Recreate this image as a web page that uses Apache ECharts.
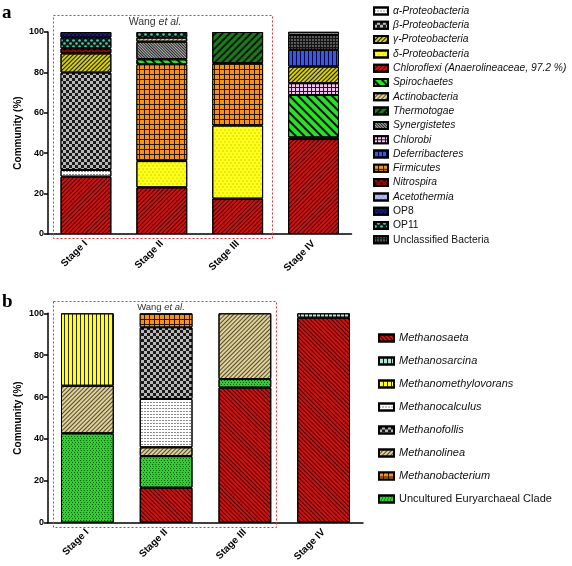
<!DOCTYPE html>
<html>
<head>
<meta charset="utf-8">
<script src="https://cdn.jsdelivr.net/npm/echarts@6/dist/echarts.min.js"></script>
<style>
html,body{margin:0;padding:0;background:#fff;overflow:hidden;}
#c{width:572px;height:566px;}
</style>
</head>
<body>
<div id="c"></div>
<script>
// ---------- DATA ----------
var stages = ['Stage I', 'Stage II', 'Stage III', 'Stage IV'];
var yTicks = [0, 20, 40, 60, 80, 100];

// Panel a (bacteria), listed in stacking order (bottom -> top)
var chloroflexi   = [28.4, 23.1, 17.5, 47.0];
var alphaProteo   = [3.3, null, null, null];
var deltaProteo   = [null, 13.0, 36.2, 0.8];
var betaProteo    = [48.2, null, null, null];
var firmicutes    = [null, 47.9, 30.9, null];
var spirochaetes  = [null, 2.5, null, 21.0];
var synergistetes = [null, 8.7, null, null];
var chlorobi      = [null, null, null, 5.8];
var gammaProteo   = [9.5, null, null, 8.3];
var actinobacteria= [null, 2.0, null, null];
var deferribacteres=[null, null, null, 8.3];
var thermotogae   = [null, null, 15.4, null];
var nitrospira    = [2.5, null, null, null];
var op11          = [5.3, 2.8, null, null];
var op8           = [2.8, null, null, null];
var unclassified  = [null, null, null, 7.4];
var acetothermia  = [null, null, null, 1.5];

var legendA = ['α-Proteobacteria', 'β-Proteobacteria', 'γ-Proteobacteria', 'δ-Proteobacteria',
  'Chloroflexi (Anaerolineaceae, 97.2 %)', 'Spirochaetes', 'Actinobacteria', 'Thermotogae',
  'Synergistetes', 'Chlorobi', 'Deferribacteres', 'Firmicutes', 'Nitrospira', 'Acetothermia',
  'OP8', 'OP11', 'Unclassified Bacteria'];

// Panel b (archaea), stacking order
var methanosaeta        = [null, 16.7, 64.5, 97.9];
var uncultured          = [42.7, 15.1, 4.1, null];
var methanolinea        = [22.7, 4.2, 31.4, null];
var methanocalculus     = [null, 23.1, null, null];
var methanofollis       = [null, 34.2, null, null];
var methanobacterium    = [null, 6.7, null, null];
var methanomethylovorans= [34.6, null, null, null];
var methanosarcina      = [null, null, null, 2.1];

var legendB = ['Methanosaeta', 'Methanosarcina', 'Methanomethylovorans', 'Methanocalculus',
  'Methanofollis', 'Methanolinea', 'Methanobacterium', 'Uncultured Euryarchaeal Clade'];

var nonItalic = ['OP8', 'OP11', 'Unclassified Bacteria', 'Uncultured Euryarchaeal Clade'];

// ---------- STYLES ----------
var FWD = -Math.PI / 4, BCK = Math.PI / 4;
function lines(color, t, g, rot) {
  return { symbol: 'rect', symbolSize: 1, color: color, dashArrayX: [1, 0], dashArrayY: [t, g], rotation: rot };
}
function vlines(color, t, g) {
  return { symbol: 'rect', symbolSize: 1, color: color, dashArrayX: [t, g], dashArrayY: [1, 0] };
}
function checker(color, s) {
  return { symbol: 'rect', symbolSize: 1, color: color, dashArrayX: [[s, s], [0, s, s, 0]], dashArrayY: [s, 0] };
}
function cells(color, a, b) {
  return { symbol: 'rect', symbolSize: 1, color: color, dashArrayX: [a, b], dashArrayY: [a, b] };
}
function dots(color, sym, size, sp) {
  return { symbol: sym, symbolSize: size, color: color, dashArrayX: [[sp, sp], [0, sp, sp, 0]], dashArrayY: [sp, 0] };
}

var styles = {
  'α-Proteobacteria': ['#ffffff', { symbol: 'rect', symbolSize: 1, color: '#8a8a8a', dashArrayX: [2, 1], dashArrayY: [1, 2] }],
  'β-Proteobacteria': ['#1a1a1a', checker('#b8b8b8', 3)],
  'γ-Proteobacteria': ['#d2cc1e', lines('#1a1a00', 1, 2, FWD)],
  'δ-Proteobacteria': ['#ffff1a', { symbol: 'rect', symbolSize: 0.6, color: 'rgba(120,120,0,0.55)', dashArrayX: [[2, 2], [0, 2, 2, 0]], dashArrayY: [2, 1] }],
  'Chloroflexi (Anaerolineaceae, 97.2 %)': ['#d01212', lines('rgba(20,0,0,0.75)', 1, 2, FWD)],
  'Spirochaetes': ['#28e028', lines('#0a0a0a', 2, 4, BCK)],
  'Actinobacteria': ['#ddd19c', lines('rgba(40,30,0,0.7)', 1, 2, FWD)],
  'Thermotogae': ['#1c7a1c', lines('#061806', 2, 3, FWD)],
  'Synergistetes': ['#b4b4b4', lines('#222', 1, 1, BCK)],
  'Chlorobi': ['#1a1a1a', cells('#f0c4ee', 3, 1)],
  'Deferribacteres': ['#3a55ee', vlines('#0a0a30', 1, 3)],
  'Firmicutes': ['#2a1800', cells('#f5921e', 4, 1)],
  'Nitrospira': ['#900c0c', dots('#1a0000', 'circle', 0.8, 3)],
  'Acetothermia': ['#b8c0f8', dots('rgba(70,70,190,0.6)', 'circle', 0.7, 2)],
  'OP8': ['#0c0c5c', dots('rgba(120,120,230,0.6)', 'rect', 0.5, 2)],
  'OP11': ['#141414', dots('#4cc8a6', 'circle', 0.9, 3)],
  'Unclassified Bacteria': ['#141414', cells('#5a5a5a', 2, 1)],

  'Methanosaeta': ['#d01212', lines('rgba(20,0,0,0.75)', 1, 2, BCK)],
  'Methanosarcina': ['#b6e6d6', vlines('#0a1a14', 1, 3)],
  'Methanomethylovorans': ['#ffff1a', vlines('#2a2a00', 1, 3)],
  'Methanocalculus': ['#ffffff', { symbol: 'rect', symbolSize: 1, color: '#8a8a8a', dashArrayX: [2, 1], dashArrayY: [1, 2] }],
  'Methanofollis': ['#1a1a1a', checker('#b8b8b8', 3)],
  'Methanolinea': ['#ddd19c', lines('rgba(40,30,0,0.75)', 1, 2, FWD)],
  'Methanobacterium': ['#2a1800', cells('#f5921e', 4, 1)],
  'Uncultured Euryarchaeal Clade': ['#2ed02e', { symbol: 'rect', symbolSize: 1, color: 'rgba(0,40,0,0.75)', dashArrayX: [[1, 2], [0, 2, 1, 0]], dashArrayY: [1, 1] }]
};

var seriesA = [
  ['Chloroflexi (Anaerolineaceae, 97.2 %)', chloroflexi],
  ['α-Proteobacteria', alphaProteo],
  ['δ-Proteobacteria', deltaProteo],
  ['β-Proteobacteria', betaProteo],
  ['Firmicutes', firmicutes],
  ['Spirochaetes', spirochaetes],
  ['Synergistetes', synergistetes],
  ['Chlorobi', chlorobi],
  ['γ-Proteobacteria', gammaProteo],
  ['Actinobacteria', actinobacteria],
  ['Deferribacteres', deferribacteres],
  ['Thermotogae', thermotogae],
  ['Nitrospira', nitrospira],
  ['OP11', op11],
  ['OP8', op8],
  ['Unclassified Bacteria', unclassified],
  ['Acetothermia', acetothermia]
];
var seriesB = [
  ['Methanosaeta', methanosaeta],
  ['Uncultured Euryarchaeal Clade', uncultured],
  ['Methanolinea', methanolinea],
  ['Methanocalculus', methanocalculus],
  ['Methanofollis', methanofollis],
  ['Methanobacterium', methanobacterium],
  ['Methanomethylovorans', methanomethylovorans],
  ['Methanosarcina', methanosarcina]
];

var FONT = "'Liberation Sans', Arial, sans-serif";

function mkSeries(list, idx, stack) {
  return list.map(function (s) {
    var st = styles[s[0]];
    return {
      name: s[0], type: 'bar', stack: stack, xAxisIndex: idx, yAxisIndex: idx,
      barWidth: '67%', data: s[1],
      itemStyle: { color: st[0], decal: st[1], borderColor: '#000', borderWidth: 1 },
      emphasis: { disabled: true }, animation: false
    };
  });
}

function xAx(idx) {
  return {
    type: 'category', gridIndex: idx, data: stages,
    axisLine: { lineStyle: { color: '#000', width: 1.5 } },
    axisTick: { alignWithLabel: true, length: 5, lineStyle: { color: '#000', width: 1.5 } },
    axisLabel: { rotate: 45, fontFamily: FONT, fontWeight: 'bold', fontSize: 10, color: '#000', margin: 8 }
  };
}
function yAx(idx) {
  return {
    type: 'value', gridIndex: idx, min: yTicks[0], max: yTicks[yTicks.length - 1], interval: 20,
    name: 'Community (%)', nameLocation: 'middle', nameGap: 25, nameMoveOverlap: false,
    nameTextStyle: { fontFamily: FONT, fontWeight: 'bold', fontSize: 10, color: '#000' },
    axisLine: { show: true, lineStyle: { color: '#000', width: 1.5 } },
    axisTick: { show: true, length: 4, lineStyle: { color: '#000', width: 1.5 } },
    axisLabel: { fontFamily: FONT, fontWeight: 'bold', fontSize: 9, color: '#000', margin: 4 },
    splitLine: { show: false }
  };
}
function legendFmt(name) {
  return nonItalic.indexOf(name) >= 0 ? '{n|' + name + '}' : name;
}

var chart = echarts.init(document.getElementById('c'), null, { renderer: 'canvas' });
chart.setOption({
  animation: false,
  backgroundColor: '#fff',
  grid: [
    { left: 48, right: 220.5, top: 32, bottom: 332 },
    { left: 48, right: 209, top: 313.3, bottom: 43.3 }
  ],
  xAxis: [xAx(0), xAx(1)],
  yAxis: [yAx(0), yAx(1)],
  legend: [
    {
      data: legendA, orient: 'vertical', left: 368, top: 0, itemWidth: 14, itemHeight: 7, itemGap: 2.3,
      icon: 'rect', selectedMode: false, formatter: legendFmt,
      textStyle: { fontFamily: FONT, fontStyle: 'italic', fontSize: 10.3, lineHeight: 12, color: '#111',
        rich: { n: { fontStyle: 'normal', fontFamily: FONT, fontSize: 10.3, color: '#111' } } }
    },
    {
      data: legendB, orient: 'vertical', left: 373, top: 326, itemWidth: 15, itemHeight: 7, itemGap: 9,
      icon: 'rect', selectedMode: false, formatter: legendFmt,
      textStyle: { fontFamily: FONT, fontStyle: 'italic', fontSize: 11, lineHeight: 14, color: '#111',
        rich: { n: { fontStyle: 'normal', fontFamily: FONT, fontSize: 11, color: '#111' } } }
    }
  ],
  graphic: [
    { type: 'text', left: 2, top: 4, style: { text: 'a', font: "bold 19px 'Liberation Serif', 'DejaVu Serif', serif", fill: '#000' } },
    { type: 'text', left: 2, top: 293, style: { text: 'b', font: "bold 19px 'Liberation Serif', 'DejaVu Serif', serif", fill: '#000' } },
    { type: 'rect', z: 100, shape: { x: 53.5, y: 15.5, width: 219, height: 223 }, style: { fill: 'none', stroke: '#e23030', lineWidth: 1, lineDash: [2, 2] } },
    { type: 'rect', z: 100, shape: { x: 53.5, y: 301.5, width: 223, height: 226 }, style: { fill: 'none', stroke: '#e23030', lineWidth: 1, lineDash: [2, 2] } },
    { type: 'text', z: 100, x: 155, y: 22, style: { text: '{a|Wang }{b|et al.}', align: 'center', verticalAlign: 'middle',
        rich: { a: { font: "10.5px 'Liberation Sans', Arial", fill: '#333' }, b: { font: "italic 10.5px 'Liberation Sans', Arial", fill: '#333' } } } },
    { type: 'text', z: 100, x: 161, y: 307, style: { text: '{a|Wang }{b|et al.}', align: 'center', verticalAlign: 'middle',
        rich: { a: { font: "9.5px 'Liberation Sans', Arial", fill: '#333' }, b: { font: "italic 9.5px 'Liberation Sans', Arial", fill: '#333' } } } }
  ],
  series: mkSeries(seriesA, 0, 'a').concat(mkSeries(seriesB, 1, 'b'))
});
</script>
</body>
</html>
